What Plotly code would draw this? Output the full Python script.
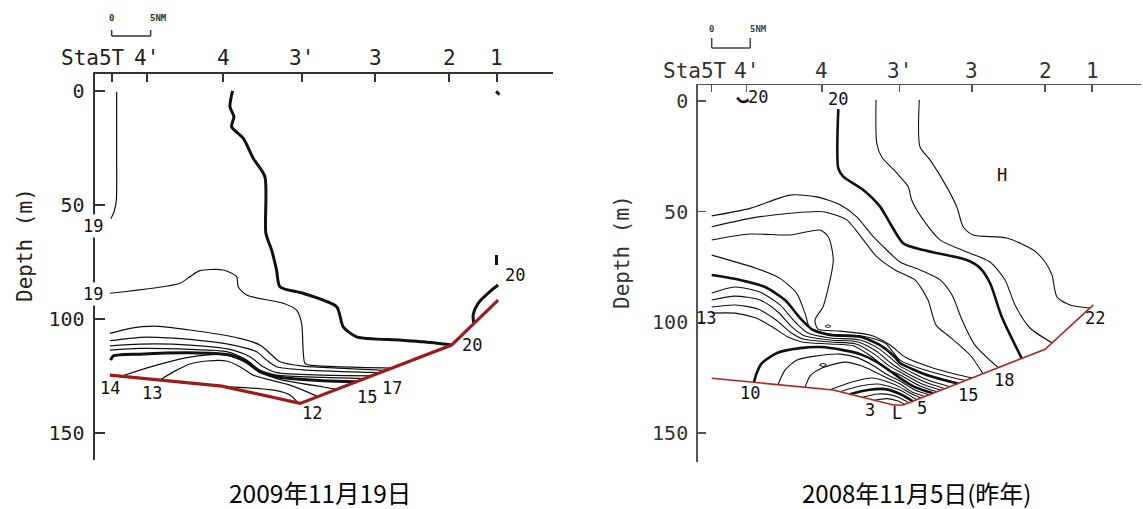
import plotly.graph_objects as go

FIG_W, FIG_H = 1143, 509

# ---------------- shared axis content ----------------
STATION_NAMES = ["Sta5T", "4'", "4", "3'", "3", "2", "1"]
STATION_NM = [0.0, 4.5, 14.3, 24.4, 33.8, 43.3, 49.4]
DEPTH_TICKS = [0, 50, 100, 150]
SCALE_BAR_NM = [0, 5]
TITLE_2009 = "2009年11月19日"
TITLE_2008 = "2008年11月5日(昨年)"

# ---------------- 2009-11-19 section (left) ----------------
SEABED_2009_NM = [-0.22, 14.14, 24.18, 43.59, 49.56]
SEABED_2009_D = [124.6, 129.4, 137.0, 111.4, 91.7]

C09_19TOP_NM = [0.64, 0.64, 0.6, 0.3, -0.1]
C09_19TOP_D = [0.3, 30, 48, 53, 56]
C09_19_NM = [-0.22, 8.76, 10.04, 11.32, 14.31, 16.03, 16.23, 17.31, 22.0, 23.72, 24.36, 24.78, 25.42, 35.9]
C09_19_D = [88.7, 84.3, 81.4, 78.8, 78.5, 81.4, 85.8, 89.5, 93.1, 96.1, 101.9, 119.4, 120.2, 121.5]
C09_18_NM = [-0.22, 2.35, 5.33, 10.04, 16.45, 19.01, 20.29, 21.58, 24.56, 29.69, 35.17]
C09_18_D = [106.3, 104.1, 103.1, 104.8, 108.5, 111.4, 115.0, 118.7, 120.6, 121.6, 122.5]
C09_17_NM = [-0.22, 3.63, 5.77, 10.04, 15.59, 18.59, 19.87, 21.15, 25.0, 34.4]
C09_17_D = [109.5, 108.0, 108.0, 108.9, 111.4, 114.3, 118.0, 120.9, 122.4, 123.5]
C09_16_NM = [-0.22, 3.63, 10.04, 15.17, 17.73, 19.44, 21.15, 27.13, 33.37]
C09_16_D = [111.8, 111.0, 111.4, 113.3, 116.5, 120.9, 123.5, 124.6, 124.9]
C09_155_NM = [-0.22, 3.63, 10.04, 14.74, 17.31, 19.01, 21.15, 27.13, 32.47]
C09_155_D = [113.6, 112.9, 113.3, 114.3, 118.0, 122.4, 124.6, 125.6, 126.1]
C09_15_NM = [-0.13, 0.21, 3.63, 10.04, 15.17, 17.31, 19.01, 21.15, 27.13, 31.41]
C09_15_D = [118.0, 116.2, 115.4, 114.8, 115.8, 118.7, 123.1, 125.3, 127.1, 127.5]
C09_14_NM = [1.28, 5.77, 10.04, 14.27, 16.83, 18.76, 21.15, 27.13, 28.88]
C09_14_D = [125.0, 120.2, 116.7, 115.6, 118.4, 122.8, 126.1, 129.8, 130.8]
C09_13_NM = [6.19, 8.33, 10.04, 12.18, 14.74, 16.45, 18.15, 22.86, 26.45]
C09_13_D = [126.7, 122.4, 119.7, 118.4, 118.4, 120.9, 124.6, 129.0, 134.0]
C09_12_NM = [14.31, 18.59, 21.15, 22.86, 23.92]
C09_12_D = [129.6, 130.4, 131.4, 133.3, 136.8]
C09_20_NM = [15.51, 15.17, 15.68, 15.38, 16.87, 18.15, 19.65, 19.78, 20.51, 21.15, 21.58,
             24.56, 28.85, 29.69, 31.41, 36.96, 39.95, 43.59]
C09_20_D = [0.0, 6.9, 11.3, 15.7, 20.7, 29.5, 37.6, 62.4, 69.7, 78.5, 85.8,
            88.7, 94.6, 103.4, 107.8, 109.2, 110.0, 111.4]
C09_20R_NM = [49.56, 48.5, 47.0, 46.36, 46.45]
C09_20R_D = [85.1, 88.0, 93.1, 98.2, 102.0]
C09_20T_NM = [49.3, 49.75]
C09_20T_D = [0.2, 1.6]
C09_20M_NM = [49.35, 49.35]
C09_20M_D = [71.9, 76.3]

LAB09_TEXT = ["19", "19", "14", "13", "12", "15", "17", "20", "20"]
LAB09_NM = [-2.2, -2.2, -0.22, 5.13, 25.64, 32.7, 35.9, 46.15, 51.7]
LAB09_D = [59.0, 89.0, 130.4, 132.6, 141.4, 134.1, 130.4, 111.4, 80.7]

# ---------------- 2008-11-05 section (right) ----------------
SEABED_2008_NM = [0.0, 15.79, 23.58, 24.88, 43.29, 49.56]
SEABED_2008_D = [125.2, 130.5, 137.3, 137.3, 112.1, 92.1]

C08_20_NM = [16.44, 16.44, 17.09, 19.69, 21.86, 23.16, 24.88, 27.48, 33.12, 34.84, 36.14, 37.66, 40.26]
C08_20_D = [3.7, 30.4, 34.2, 40.2, 47.7, 55.2, 64.3, 67.3, 71.8, 75.4, 82.2, 97.4, 116.2]
C08_21_NM = [21.34, 21.43, 22.08, 24.03, 25.53, 25.97, 27.48, 29.65, 33.12, 36.14, 38.09, 39.39, 41.34, 44.19]
C08_21_D = [-0.5, 19.0, 25.3, 32.5, 38.8, 44.7, 53.7, 62.7, 68.2, 72.7, 80.8, 92.1, 102.5, 109.2]
C08_22_NM = [26.96, 27.05, 28.35, 30.52, 31.82, 32.68, 33.97, 38.31, 41.77, 43.29, 44.19, 44.84, 46.53, 49.13]
C08_22_D = [-0.5, 20.8, 26.6, 38.8, 47.8, 56.9, 60.5, 61.9, 67.3, 72.7, 78.6, 88.5, 92.1, 93.5]
C08_19_NM = [0, 4.97, 10.17, 13.64, 16.66, 18.83, 20.99, 22.73, 24.45, 27.05, 29.65, 31.21, 32.51, 34.19, 37.18]
C08_19_D = [51.9, 48.5, 42.5, 43.3, 46.9, 52.3, 61.3, 67.3, 72.7, 76.3, 80.8, 87.6, 98.9, 110.2, 120.3]
C08_18_NM = [0, 4.97, 10.17, 14.49, 17.53, 19.69, 21.43, 23.81, 26.4, 28.09, 29.13, 30.95, 33.55, 35.23]
C08_18_D = [56.8, 53.0, 50.7, 50.0, 53.7, 62.7, 70.3, 76.3, 80.8, 89.9, 101.2, 106.6, 114.7, 123.1]
C08_17_NM = [0, 4.97, 10.17, 14.06, 15.14, 15.79, 14.97, 14.45, 13.41, 13.8, 16.66, 20.56, 23.16, 25.1, 28.35, 31.6, 33.8]
C08_17_D = [62.8, 60.1, 60.5, 58.3, 61.3, 71.8, 86.7, 93.0, 98.9, 103.0, 103.9, 105.7, 110.2, 115.6, 120.1, 123.3, 125.1]
C08_16_NM = [0, 5.84, 8.87, 11.04, 12.12, 12.77, 15.36, 19.65, 22.51, 24.45, 27.7, 30.95, 33.03]
C08_16_D = [69.6, 75.6, 80.1, 86.9, 95.9, 102.5, 105.3, 106.2, 109.3, 117.0, 121.5, 124.6, 126.2]
C08_15_NM = [0, 3.68, 6.92, 9.52, 11.47, 13.16, 15.36, 19.26, 21.86, 23.81, 24.45, 28.35, 31.98]
C08_15_D = [78.6, 80.8, 84.0, 89.9, 98.0, 103.4, 105.6, 106.5, 110.2, 115.7, 118.3, 124.2, 127.6]
C08_14_NM = [0, 3.03, 6.27, 8.87, 10.82, 12.51, 15.36, 19.26, 21.6, 23.55, 24.45, 28.09, 30.95]
C08_14_D = [86.7, 84.0, 86.3, 92.1, 99.8, 104.8, 107.0, 107.9, 111.6, 117.0, 119.7, 126.0, 129.0]
C08_13_NM = [0, 3.03, 6.27, 8.61, 10.43, 12.12, 15.36, 18.99, 21.34, 23.29, 24.45, 27.7, 30.3]
C08_13_D = [89.9, 88.1, 89.9, 95.3, 102.1, 106.1, 107.9, 108.8, 112.9, 118.4, 121.1, 126.9, 129.9]
C08_12_NM = [0, 3.03, 5.99, 8.35, 10.17, 11.86, 15.36, 18.73, 21.08, 23.03, 24.45, 27.31, 29.78]
C08_12_D = [93.0, 92.1, 93.9, 98.9, 104.3, 107.5, 108.8, 109.7, 114.2, 119.6, 122.4, 127.8, 130.6]
C08_11_NM = [0, 3.03, 5.75, 8.09, 9.91, 11.73, 15.36, 18.47, 20.82, 22.77, 24.45, 27.05, 29.26]
C08_11_D = [95.8, 95.8, 98.0, 102.5, 106.6, 108.8, 109.7, 110.6, 115.6, 121.0, 123.7, 128.7, 131.3]
C08_10_NM = [5.49, 5.75, 6.49, 8.48, 11.47, 14.19, 17.05, 19.26, 21.47, 23.16, 24.45, 26.4, 28.74]
C08_10_D = [127.1, 123.7, 118.5, 113.8, 111.6, 111.1, 112.5, 114.3, 117.9, 121.9, 125.1, 129.2, 132.0]
C08_9_NM = [8.61, 9.52, 11.08, 13.42, 16.66, 19.0, 21.08, 22.64, 24.45, 26.4, 28.22]
C08_9_D = [128.1, 121.5, 117.0, 115.2, 114.3, 116.0, 119.7, 123.3, 126.4, 130.5, 132.7]
C08_8_NM = [12.12, 12.77, 14.32, 17.31, 19.52, 21.21, 22.77, 24.45, 26.01, 27.7]
C08_8_D = [129.3, 124.2, 120.6, 117.9, 119.7, 122.4, 125.1, 127.8, 131.4, 133.4]
C08_7_NM = [15.36, 18.21, 20.82, 22.9, 24.45, 25.75, 27.18]
C08_7_D = [130.4, 126.9, 125.1, 126.9, 129.2, 131.9, 134.2]
C08_6_NM = [16.66, 19.26, 21.6, 23.16, 24.45, 25.62, 26.66]
C08_6_D = [131.3, 128.7, 127.8, 129.0, 130.5, 132.8, 134.9]
C08_5_NM = [17.96, 20.3, 22.51, 24.45, 26.14]
C08_5_D = [132.4, 130.5, 130.1, 132.3, 135.6]
C08_4_NM = [19.52, 21.6, 23.42, 24.45, 25.62]
C08_4_D = [133.8, 132.3, 132.8, 134.1, 136.3]
C08_3_NM = [21.08, 22.77, 24.19, 25.1]
C08_3_D = [135.1, 134.4, 135.5, 137.0]
C08_O1_NM = [14.7, 15.1, 15.5, 15.1, 14.7]
C08_O1_D = [101.7, 101.1, 101.7, 102.3, 101.7]
C08_O2_NM = [14.0, 14.46, 14.9, 14.46, 14.0]
C08_O2_D = [119.2, 118.5, 119.2, 119.9, 119.2]
C08_20S_NM = [3.3, 3.8, 4.4, 4.8]
C08_20S_D = [-1.5, 0.2, 0.3, -0.6]

LAB08_TEXT = ["20", "20", "H", "13", "10", "3", "L", "5", "15", "18", "22"]
LAB08_NM = [6.0, 16.44, 37.7, -0.79, 4.97, 20.55, 24.07, 27.3, 33.3, 37.9, 49.8]
LAB08_D = [-1.8, -0.9, 33.4, 97.9, 132.0, 139.6, 141.1, 138.8, 132.8, 126.0, 98.1]

# ---------------- styling ----------------
MONO = "DejaVu Sans Mono"
CJK = "Noto Sans CJK JP"
INK = "#111111"
RED_09 = "#9e1b1b"
RED_08 = "#b02323"

contours_2009 = [
    (C09_19TOP_NM, C09_19TOP_D, False), (C09_19_NM, C09_19_D, False),
    (C09_18_NM, C09_18_D, False), (C09_17_NM, C09_17_D, False),
    (C09_16_NM, C09_16_D, False), (C09_155_NM, C09_155_D, False),
    (C09_15_NM, C09_15_D, True), (C09_14_NM, C09_14_D, False),
    (C09_13_NM, C09_13_D, False), (C09_12_NM, C09_12_D, False),
    (C09_20_NM, C09_20_D, True), (C09_20R_NM, C09_20R_D, True),
    (C09_20T_NM, C09_20T_D, True), (C09_20M_NM, C09_20M_D, True),
]
contours_2008 = [
    (C08_20_NM, C08_20_D, True), (C08_21_NM, C08_21_D, False), (C08_22_NM, C08_22_D, False),
    (C08_19_NM, C08_19_D, False), (C08_18_NM, C08_18_D, False), (C08_17_NM, C08_17_D, False),
    (C08_16_NM, C08_16_D, False), (C08_15_NM, C08_15_D, True), (C08_14_NM, C08_14_D, False),
    (C08_13_NM, C08_13_D, False), (C08_12_NM, C08_12_D, False), (C08_11_NM, C08_11_D, False),
    (C08_10_NM, C08_10_D, True), (C08_9_NM, C08_9_D, False), (C08_8_NM, C08_8_D, False),
    (C08_7_NM, C08_7_D, False), (C08_6_NM, C08_6_D, False), (C08_5_NM, C08_5_D, True),
    (C08_4_NM, C08_4_D, False), (C08_3_NM, C08_3_D, False),
    (C08_20S_NM, C08_20S_D, True),
]
loops_2008 = [(C08_O1_NM, C08_O1_D), (C08_O2_NM, C08_O2_D)]

fig = go.Figure()


def add_line(xs, ds, xa, ya, width, color=INK, shape="spline"):
    line = dict(color=color, width=width, shape=shape)
    if shape == "spline":
        line["smoothing"] = 0.7
    fig.add_trace(go.Scatter(x=xs, y=ds, xaxis=xa, yaxis=ya, mode="lines",
                             line=line, showlegend=False, hoverinfo="skip"))


for xs, ds, thick in contours_2009:
    add_line(xs, ds, "x", "y", 3.0 if thick else 1.2)
add_line(SEABED_2009_NM, SEABED_2009_D, "x", "y", 3.2, RED_09, "linear")

for xs, ds, thick in contours_2008:
    add_line(xs, ds, "x2", "y2", 2.6 if thick else 1.1)
for xs, ds in loops_2008:
    add_line(xs, ds, "x2", "y2", 1.0)
add_line(SEABED_2008_NM, SEABED_2008_D, "x2", "y2", 1.6, RED_08, "linear")

annotations = []
shapes = []


def text(t, x, y, xref, yref, size=17, family=MONO, **kw):
    d = dict(text=t, x=x, y=y, xref=xref, yref=yref, showarrow=False,
             xanchor=kw.pop("xanchor", "center"), yanchor=kw.pop("yanchor", "middle"),
             font=dict(family=family, size=size, color=kw.pop("color", "#111")))
    d.update(kw)
    annotations.append(d)


# contour labels
for t, x, d in zip(LAB09_TEXT, LAB09_NM, LAB09_D):
    if t == "19" and x < 0 and d < 100:
        text(t, x, d, "x", "y", 17, bgcolor="white", borderpad=1, xshift=-2)
    else:
        text(t, x, d, "x", "y", 17)
for t, x, d in zip(LAB08_TEXT, LAB08_NM, LAB08_D):
    text(t, x, d, "x2", "y2", 17)

# station labels along the top
Y_STA_09 = 1 - 58 / FIG_H
Y_STA_08 = 1 - 71 / FIG_H
for name, nm in zip(STATION_NAMES, STATION_NM):
    if name == "Sta5T":
        text(name, 2.0, Y_STA_09, "x", "paper", 21, xanchor="right", color="#222")
        text(name, 2.2, Y_STA_08, "x2", "paper", 21, xanchor="right", color="#333")
    else:
        text(name, nm, Y_STA_09, "x", "paper", 21, color="#222")
        text(name, nm, Y_STA_08, "x2", "paper", 21, color="#333")

# scale bars (0 - 5 NM)
for xr, ytop, ybot, ytxt, col in [("x", 1 - 30 / FIG_H, 1 - 36 / FIG_H, 1 - 18 / FIG_H, "#333"),
                                  ("x2", 1 - 38 / FIG_H, 1 - 48 / FIG_H, 1 - 29 / FIG_H, "#444")]:
    a, b = SCALE_BAR_NM
    shapes.append(dict(type="line", xref=xr, yref="paper", x0=a, x1=a, y0=ytop, y1=ybot,
                       line=dict(color=col, width=1.5)))
    shapes.append(dict(type="line", xref=xr, yref="paper", x0=b, x1=b, y0=ytop, y1=ybot,
                       line=dict(color=col, width=1.5)))
    shapes.append(dict(type="line", xref=xr, yref="paper", x0=a, x1=b, y0=ybot, y1=ybot,
                       line=dict(color=col, width=1.5)))
    text("<b>0</b>", a, ytxt, xr, "paper", 9, color=col)
    text("<b>5NM</b>", b - 0.3, ytxt, xr, "paper", 9, xanchor="left", color=col)

# depth titles
text("Depth (m)", 25 / FIG_W, 1 - 245 / FIG_H, "paper", "paper", 21, textangle=-90, color="#222")
text("Depth (m)", 622 / FIG_W, 1 - 252 / FIG_H, "paper", "paper", 21, textangle=-90, color="#333")

# captions
text(TITLE_2009, 320 / FIG_W, 1 - 492 / FIG_H, "paper", "paper", 24.5, family=CJK, color="#000")
text(TITLE_2008, 916 / FIG_W, 1 - 492 / FIG_H, "paper", "paper", 24, family=CJK, color="#000")

axis_common = dict(showgrid=False, zeroline=False, fixedrange=True, ticks="inside", automargin=False)

fig.update_layout(
    width=FIG_W, height=FIG_H,
    margin=dict(l=0, r=0, t=0, b=0, pad=0),
    paper_bgcolor="white", plot_bgcolor="white",
    showlegend=False,
    xaxis=dict(domain=[94.5 / FIG_W, 553 / FIG_W], range=[-2.2, 56.6], side="top", anchor="y",
               showline=True, linecolor="#333", linewidth=2, tickvals=STATION_NM,
               showticklabels=False, ticklen=8, tickwidth=2, tickcolor="#333", **axis_common),
    yaxis=dict(domain=[1 - 460 / FIG_H, 1 - 74.3 / FIG_H], range=[161.8, -7.3], anchor="x",
               showline=True, linecolor="#333", linewidth=2, tickvals=DEPTH_TICKS,
               ticklen=10, tickwidth=2, tickcolor="#333", ticklabelstandoff=4,
               tickfont=dict(family=MONO, size=20, color="#222"), **axis_common),
    xaxis2=dict(domain=[697.7 / FIG_W, 1141 / FIG_W], range=[-1.82, 55.75], side="top", anchor="y2",
                showline=True, linecolor="#555", linewidth=1.5, tickvals=STATION_NM,
                showticklabels=False, ticklen=7, tickwidth=1.5, tickcolor="#555", **axis_common),
    yaxis2=dict(domain=[1 - 462 / FIG_H, 1 - 85 / FIG_H], range=[163.0, -7.2], anchor="x2",
                showline=True, linecolor="#555", linewidth=1.5, tickvals=DEPTH_TICKS,
                ticklen=8, tickwidth=1.5, tickcolor="#555", ticklabelstandoff=4,
                tickfont=dict(family=MONO, size=20, color="#333"), **axis_common),
    annotations=annotations,
    shapes=shapes,
)

fig.write_html("out.html",
               config={"displayModeBar": False, "staticPlot": True},
               post_script="document.body.style.margin='0';document.body.style.overflow='hidden';")
